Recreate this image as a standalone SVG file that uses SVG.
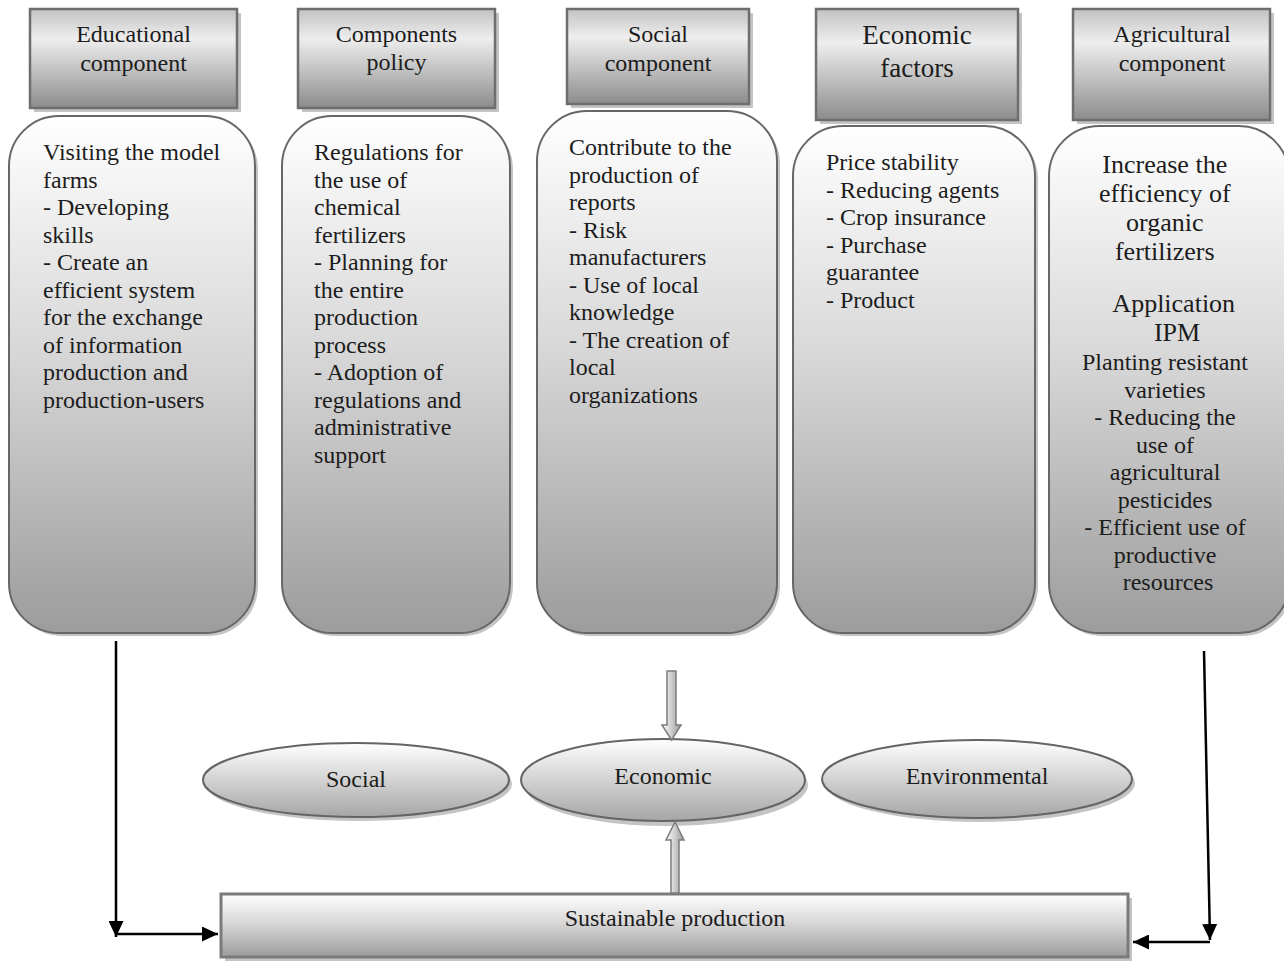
<svg xmlns="http://www.w3.org/2000/svg" width="1284" height="961" viewBox="0 0 1284 961">
<defs>
<linearGradient id="gBody" x1="0" y1="0" x2="0" y2="1">
<stop offset="0" stop-color="#ffffff"/>
<stop offset="0.45" stop-color="#d8d8d8"/>
<stop offset="1" stop-color="#9c9c9c"/>
</linearGradient>
<linearGradient id="gHead" x1="0" y1="0" x2="0" y2="1">
<stop offset="0" stop-color="#c2c2c2"/>
<stop offset="0.3" stop-color="#eeeeee"/>
<stop offset="1" stop-color="#8c8c8c"/>
</linearGradient>
<linearGradient id="gEll" x1="0" y1="0" x2="0" y2="1">
<stop offset="0" stop-color="#ffffff"/>
<stop offset="1" stop-color="#a6a6a6"/>
</linearGradient>
<linearGradient id="gArrow" x1="0" y1="0" x2="1" y2="0">
<stop offset="0" stop-color="#ffffff"/>
<stop offset="1" stop-color="#9a9a9a"/>
</linearGradient>
<marker id="ah" markerUnits="userSpaceOnUse" markerWidth="17" markerHeight="15" refX="16" refY="7.5" orient="auto">
<path d="M0,0 L16,7.5 L0,15 z" fill="#000"/>
</marker>
</defs>
<style>
.sh{fill:#c4c4c4;stroke:none}
.head{fill:url(#gHead);stroke:#6e6e6e;stroke-width:2.5}
.body{fill:url(#gBody);stroke:#676767;stroke-width:2}
.ell{fill:url(#gEll);stroke:#646464;stroke-width:2}
.bar{fill:url(#gBody);stroke:#7a7a7a;stroke-width:3}
.t{font-family:"Liberation Serif","Times New Roman",serif;font-size:24px;fill:#1c1c1c}
.tl{font-family:"Liberation Serif","Times New Roman",serif;font-size:26px;fill:#1c1c1c}
.te{font-family:"Liberation Serif","Times New Roman",serif;font-size:27px;fill:#1c1c1c}
.c{text-anchor:middle}
.ln{fill:none;stroke:#000;stroke-width:2.5;marker-end:url(#ah)}
.blk{fill:url(#gArrow);stroke:#7c7c7c;stroke-width:1.5}
</style>

<g id="educational">
<rect class="sh" x="34" y="13" width="207" height="99"/>
<rect class="head" x="30" y="9" width="207" height="99"/>
<text class="t c" x="133.5" y="42">Educational</text>
<text class="t c" x="133.5" y="71">component</text>
<rect class="sh" x="12" y="119" width="246" height="517" rx="50" ry="50"/>
<rect class="body" x="9" y="116" width="246" height="517" rx="50" ry="50"/>
<text class="t" x="43" y="160">
<tspan x="43" y="160">Visiting the model</tspan>
<tspan x="43" dy="27.5">farms</tspan>
<tspan x="43" dy="27.5">- Developing</tspan>
<tspan x="43" dy="27.5">skills</tspan>
<tspan x="43" dy="27.5">- Create an</tspan>
<tspan x="43" dy="27.5">efficient system</tspan>
<tspan x="43" dy="27.5">for the exchange</tspan>
<tspan x="43" dy="27.5">of information</tspan>
<tspan x="43" dy="27.5">production and</tspan>
<tspan x="43" dy="27.5">production-users</tspan>
</text>
</g>

<g id="policy">
<rect class="sh" x="302" y="13" width="197" height="99"/>
<rect class="head" x="298" y="9" width="197" height="99"/>
<text class="t c" x="396.5" y="42">Components</text>
<text class="t c" x="396.5" y="70">policy</text>
<rect class="sh" x="285" y="119" width="228" height="517" rx="50" ry="50"/>
<rect class="body" x="282" y="116" width="228" height="517" rx="50" ry="50"/>
<text class="t" x="314" y="160">
<tspan x="314" y="160">Regulations for</tspan>
<tspan x="314" dy="27.5">the use of</tspan>
<tspan x="314" dy="27.5">chemical</tspan>
<tspan x="314" dy="27.5">fertilizers</tspan>
<tspan x="314" dy="27.5">- Planning for</tspan>
<tspan x="314" dy="27.5">the entire</tspan>
<tspan x="314" dy="27.5">production</tspan>
<tspan x="314" dy="27.5">process</tspan>
<tspan x="314" dy="27.5">- Adoption of</tspan>
<tspan x="314" dy="27.5">regulations and</tspan>
<tspan x="314" dy="27.5">administrative</tspan>
<tspan x="314" dy="27.5">support</tspan>
</text>
</g>

<g id="social">
<rect class="sh" x="571" y="13" width="182" height="95"/>
<rect class="head" x="567" y="9" width="182" height="95"/>
<text class="t c" x="658" y="42">Social</text>
<text class="t c" x="658" y="71">component</text>
<rect class="sh" x="540" y="114" width="240" height="522" rx="50" ry="50"/>
<rect class="body" x="537" y="111" width="240" height="522" rx="50" ry="50"/>
<text class="t" x="569" y="155">
<tspan x="569" y="155">Contribute to the</tspan>
<tspan x="569" dy="27.5">production of</tspan>
<tspan x="569" dy="27.5">reports</tspan>
<tspan x="569" dy="27.5">- Risk</tspan>
<tspan x="569" dy="27.5">manufacturers</tspan>
<tspan x="569" dy="27.5">- Use of local</tspan>
<tspan x="569" dy="27.5">knowledge</tspan>
<tspan x="569" dy="27.5">- The creation of</tspan>
<tspan x="569" dy="27.5">local</tspan>
<tspan x="569" dy="27.5">organizations</tspan>
</text>
</g>

<g id="economic-factors">
<rect class="sh" x="820" y="13" width="202" height="111"/>
<rect class="head" x="816" y="9" width="202" height="111"/>
<text class="te c" x="917" y="44">Economic</text>
<text class="te c" x="917" y="77">factors</text>
<rect class="sh" x="796" y="129" width="242" height="507" rx="50" ry="50"/>
<rect class="body" x="793" y="126" width="242" height="507" rx="50" ry="50"/>
<text class="t" x="826" y="170">
<tspan x="826" y="170">Price stability</tspan>
<tspan x="826" dy="27.5">- Reducing agents</tspan>
<tspan x="826" dy="27.5">- Crop insurance</tspan>
<tspan x="826" dy="27.5">- Purchase</tspan>
<tspan x="826" dy="27.5">guarantee</tspan>
<tspan x="826" dy="27.5">- Product</tspan>
</text>
</g>

<g id="agricultural">
<rect class="sh" x="1077" y="13" width="197" height="111"/>
<rect class="head" x="1073" y="9" width="197" height="111"/>
<text class="t c" x="1172" y="42">Agricultural</text>
<text class="t c" x="1172" y="71">component</text>
<rect class="sh" x="1052" y="129" width="240" height="507" rx="50" ry="50"/>
<rect class="body" x="1049" y="126" width="240" height="507" rx="50" ry="50"/>
<text class="tl c" x="1168" y="173">
<tspan x="1168" y="173">Increase the</tspan>
<tspan x="1168" dy="29">efficiency of</tspan>
<tspan x="1168" dy="29">organic</tspan>
<tspan x="1168" dy="29">fertilizers</tspan>
<tspan x="1177" y="312">Application</tspan>
<tspan x="1177" dy="29">IPM</tspan>
</text>
<text class="t c" x="1168" y="370">
<tspan x="1168" y="370">Planting resistant</tspan>
<tspan x="1168" dy="27.5">varieties</tspan>
<tspan x="1168" dy="27.5">- Reducing the</tspan>
<tspan x="1168" dy="27.5">use of</tspan>
<tspan x="1168" dy="27.5">agricultural</tspan>
<tspan x="1168" dy="27.5">pesticides</tspan>
<tspan x="1168" dy="27.5">- Efficient use of</tspan>
<tspan x="1168" dy="27.5">productive</tspan>
<tspan x="1168" dy="27.5">resources</tspan>
</text>
</g>

<g id="ell-social">
<ellipse class="sh" cx="359" cy="784" rx="153" ry="37"/>
<ellipse class="ell" cx="356" cy="780" rx="153" ry="37"/>
<text class="t c" x="356" y="787">Social</text>
</g>

<g id="ell-economic">
<ellipse class="sh" cx="666" cy="785" rx="142" ry="41"/>
<ellipse class="ell" cx="663" cy="780" rx="142" ry="41"/>
<text class="t c" x="663" y="784">Economic</text>
</g>

<g id="ell-environmental">
<ellipse class="sh" cx="980" cy="783" rx="155" ry="39"/>
<ellipse class="ell" cx="977" cy="779" rx="155" ry="39"/>
<text class="t c" x="977" y="784">Environmental</text>
</g>

<g id="sustainable">
<rect class="sh" x="225" y="898" width="907" height="64"/>
<rect class="bar" x="221" y="894" width="907" height="63"/>
<text class="t c" x="675" y="926">Sustainable production</text>
</g>

<g id="connectors">
<path class="ln" d="M116,641 V937"/>
<path class="ln" d="M116,934 H218"/>
<path class="ln" d="M1204,651 L1210,940"/>
<path class="ln" d="M1210,942 H1133"/>
<polygon class="blk" points="667,671 676,671 676,725 681,725 671.5,740 662,725 667,725"/>
<polygon class="blk" points="671,893 679,893 679,840 684,840 675,822 666,840 671,840"/>
</g>
</svg>
